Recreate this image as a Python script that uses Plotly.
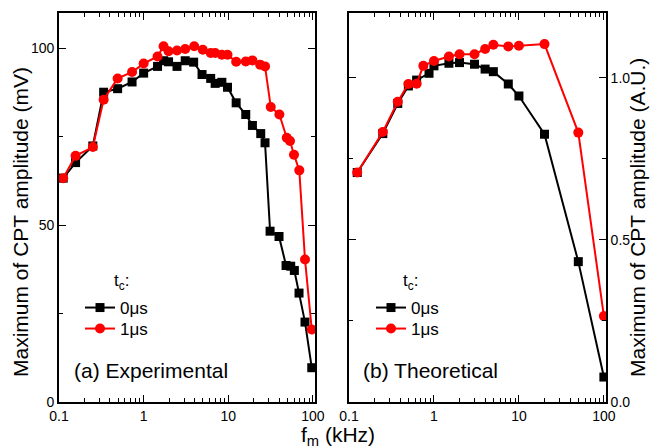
import plotly.graph_objects as go

# ---------------- data ----------------
# (a) Experimental
exp_f_0 = [0.112, 0.157, 0.251, 0.337, 0.493, 0.73, 1.0, 1.46, 1.72, 1.97, 2.48, 3.1, 3.9,
           4.9, 6.2, 7.0, 8.4, 9.8, 12.4, 16.1, 19.3, 24.2, 27.2, 31.2, 39.8, 48.2, 54.7,
           60.4, 68.6, 80.7, 97.0]
exp_v_0 = [63.3, 67.7, 72.4, 87.6, 88.6, 90.5, 93.0, 94.9, 96.5, 96.2, 94.9, 96.5, 96.1,
           92.6, 91.5, 90.1, 90.4, 89.0, 84.6, 81.3, 78.2, 75.9, 73.3, 48.3, 46.8, 38.6, 38.4,
           37.2, 30.8, 22.6, 9.7]
exp_f_1 = [0.112, 0.157, 0.251, 0.337, 0.493, 0.73, 1.0, 1.46, 1.72, 1.97, 2.48, 3.1, 3.96,
           5.0, 6.2, 7.0, 8.4, 9.8, 12.4, 16.1, 19.3, 23.8, 27.2, 31.8, 40.2, 49.1, 53.7,
           59.8, 69.1, 80.7, 97.0]
exp_v_1 = [63.3, 69.6, 72.1, 85.5, 91.5, 93.3, 95.7, 97.7, 100.6, 99.2, 99.4, 99.8, 100.6,
           99.6, 98.7, 98.7, 98.2, 98.2, 96.2, 96.3, 96.6, 95.4, 94.9, 83.4, 81.3, 74.7, 73.8,
           69.9, 65.5, 40.3, 20.5]

# (b) Theoretical
th_f_0 = [0.125, 0.25, 0.375, 0.5, 0.625, 0.875, 1.0, 1.5, 2, 3, 4, 5, 7.5, 10, 20, 50, 100]
th_v_0 = [0.708, 0.828, 0.921, 0.975, 0.993, 1.014, 1.037, 1.045, 1.047, 1.042, 1.027, 1.019,
          0.981, 0.944, 0.826, 0.433, 0.077]
th_f_1 = [0.125, 0.25, 0.375, 0.5, 0.625, 0.75, 1.0, 1.5, 2, 3, 4, 5, 7.5, 10, 20, 50, 100]
th_v_1 = [0.708, 0.833, 0.926, 0.981, 0.982, 1.037, 1.052, 1.066, 1.073, 1.073, 1.089, 1.102,
          1.097, 1.099, 1.104, 0.831, 0.265]

series_names = ["0\u03bcs", "1\u03bcs"]

x_major = [0.1, 1, 10, 100]
x_major_text = ["0.1", "1", "10", "100"]
x_minor = [m * d for d in (0.1, 1, 10) for m in range(2, 10)]

yl_major = [0, 50, 100]
yl_minor = [25, 75]
yr_major = [0, 0.5, 1.0]
yr_major_text = ["0.0", "0.5", "1.0"]
yr_minor = [0.25, 0.75]

# ---------------- figure ----------------
W, H = 656, 448
FONT = "Liberation Sans, Arial, sans-serif"
BLACK = "#000000"
RED = "#ff0000"

fig = go.Figure()

def add(x, y, name, color, symbol, size, xa, ya, legend):
    fig.add_trace(go.Scatter(
        x=x, y=y, name=name, mode="lines+markers",
        line=dict(color=color, width=2),
        marker=dict(symbol=symbol, size=size, color=color),
        xaxis=xa, yaxis=ya, legend=legend, showlegend=True))

add(exp_f_0, exp_v_0, series_names[0], BLACK, "square", 9, "x", "y", "legend")
add(exp_f_1, exp_v_1, series_names[1], RED, "circle", 10, "x", "y", "legend2")
add(th_f_0, th_v_0, series_names[0], BLACK, "square", 9, "x2", "y2", "legend3")
add(th_f_1, th_v_1, series_names[1], RED, "circle", 10, "x2", "y2", "legend4")

def px_x(p):
    return p / W

def px_y(p):
    return 1 - p / H

y_dom = [px_y(402), px_y(13)]

common_axis = dict(
    showline=True, linecolor=BLACK, linewidth=1.6, mirror="ticks",
    ticks="inside", ticklen=7, tickwidth=1.4, tickcolor=BLACK,
    showgrid=False, zeroline=False, automargin=False,
    tickfont=dict(family=FONT, size=14, color=BLACK),
)

def minor(vals):
    return dict(tickmode="array", tickvals=vals, ticks="inside", ticklen=4,
                tickwidth=1.2, tickcolor=BLACK, showgrid=False)

xaxis_common = dict(
    type="log", range=[-1, 2.025],
    tickmode="array", tickvals=x_major, ticktext=x_major_text,
    minor=minor(x_minor), **common_axis)

TITLE_FONT = dict(family=FONT, size=21, color=BLACK)
LEG_FONT = dict(family=FONT, size=17, color=BLACK)

def leg(x, y):
    return dict(x=px_x(x), y=px_y(y), xanchor="left", yanchor="top",
                bgcolor="rgba(0,0,0,0)", font=LEG_FONT, itemwidth=30)

fig.update_layout(
    width=W, height=H,
    margin=dict(l=0, r=0, t=0, b=0, autoexpand=False),
    paper_bgcolor="white", plot_bgcolor="white",
    font=dict(family=FONT, color=BLACK),
    xaxis=dict(domain=[px_x(59), px_x(315)], anchor="y", **xaxis_common),
    xaxis2=dict(domain=[px_x(349), px_x(606)], anchor="y2", **xaxis_common),
    yaxis=dict(domain=y_dom, range=[0, 110], anchor="x",
               tickmode="array", tickvals=yl_major,
               minor=minor(yl_minor), **common_axis),
    yaxis2=dict(domain=y_dom, range=[0, 1.2], anchor="x2", side="right",
                tickmode="array", tickvals=yr_major, ticktext=yr_major_text,
                minor=minor(yr_minor), **common_axis),
    legend=leg(80, 290),
    legend2=leg(80, 311),
    legend3=leg(371, 290),
    legend4=leg(371, 311),
    annotations=[
        dict(text="Maximum of CPT amplitude (mV)", x=px_x(20), y=px_y(222),
             xref="paper", yref="paper", textangle=-90, showarrow=False,
             font=TITLE_FONT, xanchor="center", yanchor="middle"),
        dict(text="Maximum of CPT amplitude (A.U.)", x=px_x(638), y=px_y(218),
             xref="paper", yref="paper", textangle=-90, showarrow=False,
             font=TITLE_FONT, xanchor="center", yanchor="middle"),
        dict(text="f<sub>m</sub> (kHz)", x=px_x(338), y=px_y(436), xref="paper", yref="paper",
             showarrow=False, font=TITLE_FONT, xanchor="center", yanchor="middle"),
        dict(text="(a) Experimental", x=px_x(72), y=px_y(370), xref="paper", yref="paper",
             showarrow=False, font=TITLE_FONT, xanchor="left", yanchor="middle"),
        dict(text="(b) Theoretical", x=px_x(361), y=px_y(370), xref="paper", yref="paper",
             showarrow=False, font=TITLE_FONT, xanchor="left", yanchor="middle"),
        dict(text="t<sub>c</sub>:", x=px_x(112), y=px_y(282), xref="paper", yref="paper",
             showarrow=False, font=LEG_FONT, xanchor="left", yanchor="middle"),
        dict(text="t<sub>c</sub>:", x=px_x(401), y=px_y(282), xref="paper", yref="paper",
             showarrow=False, font=LEG_FONT, xanchor="left", yanchor="middle"),
    ],
)

fig.write_html("out.html",
               config={"displayModeBar": False},
               post_script="document.body.style.margin='0';document.body.style.overflow='hidden';")
